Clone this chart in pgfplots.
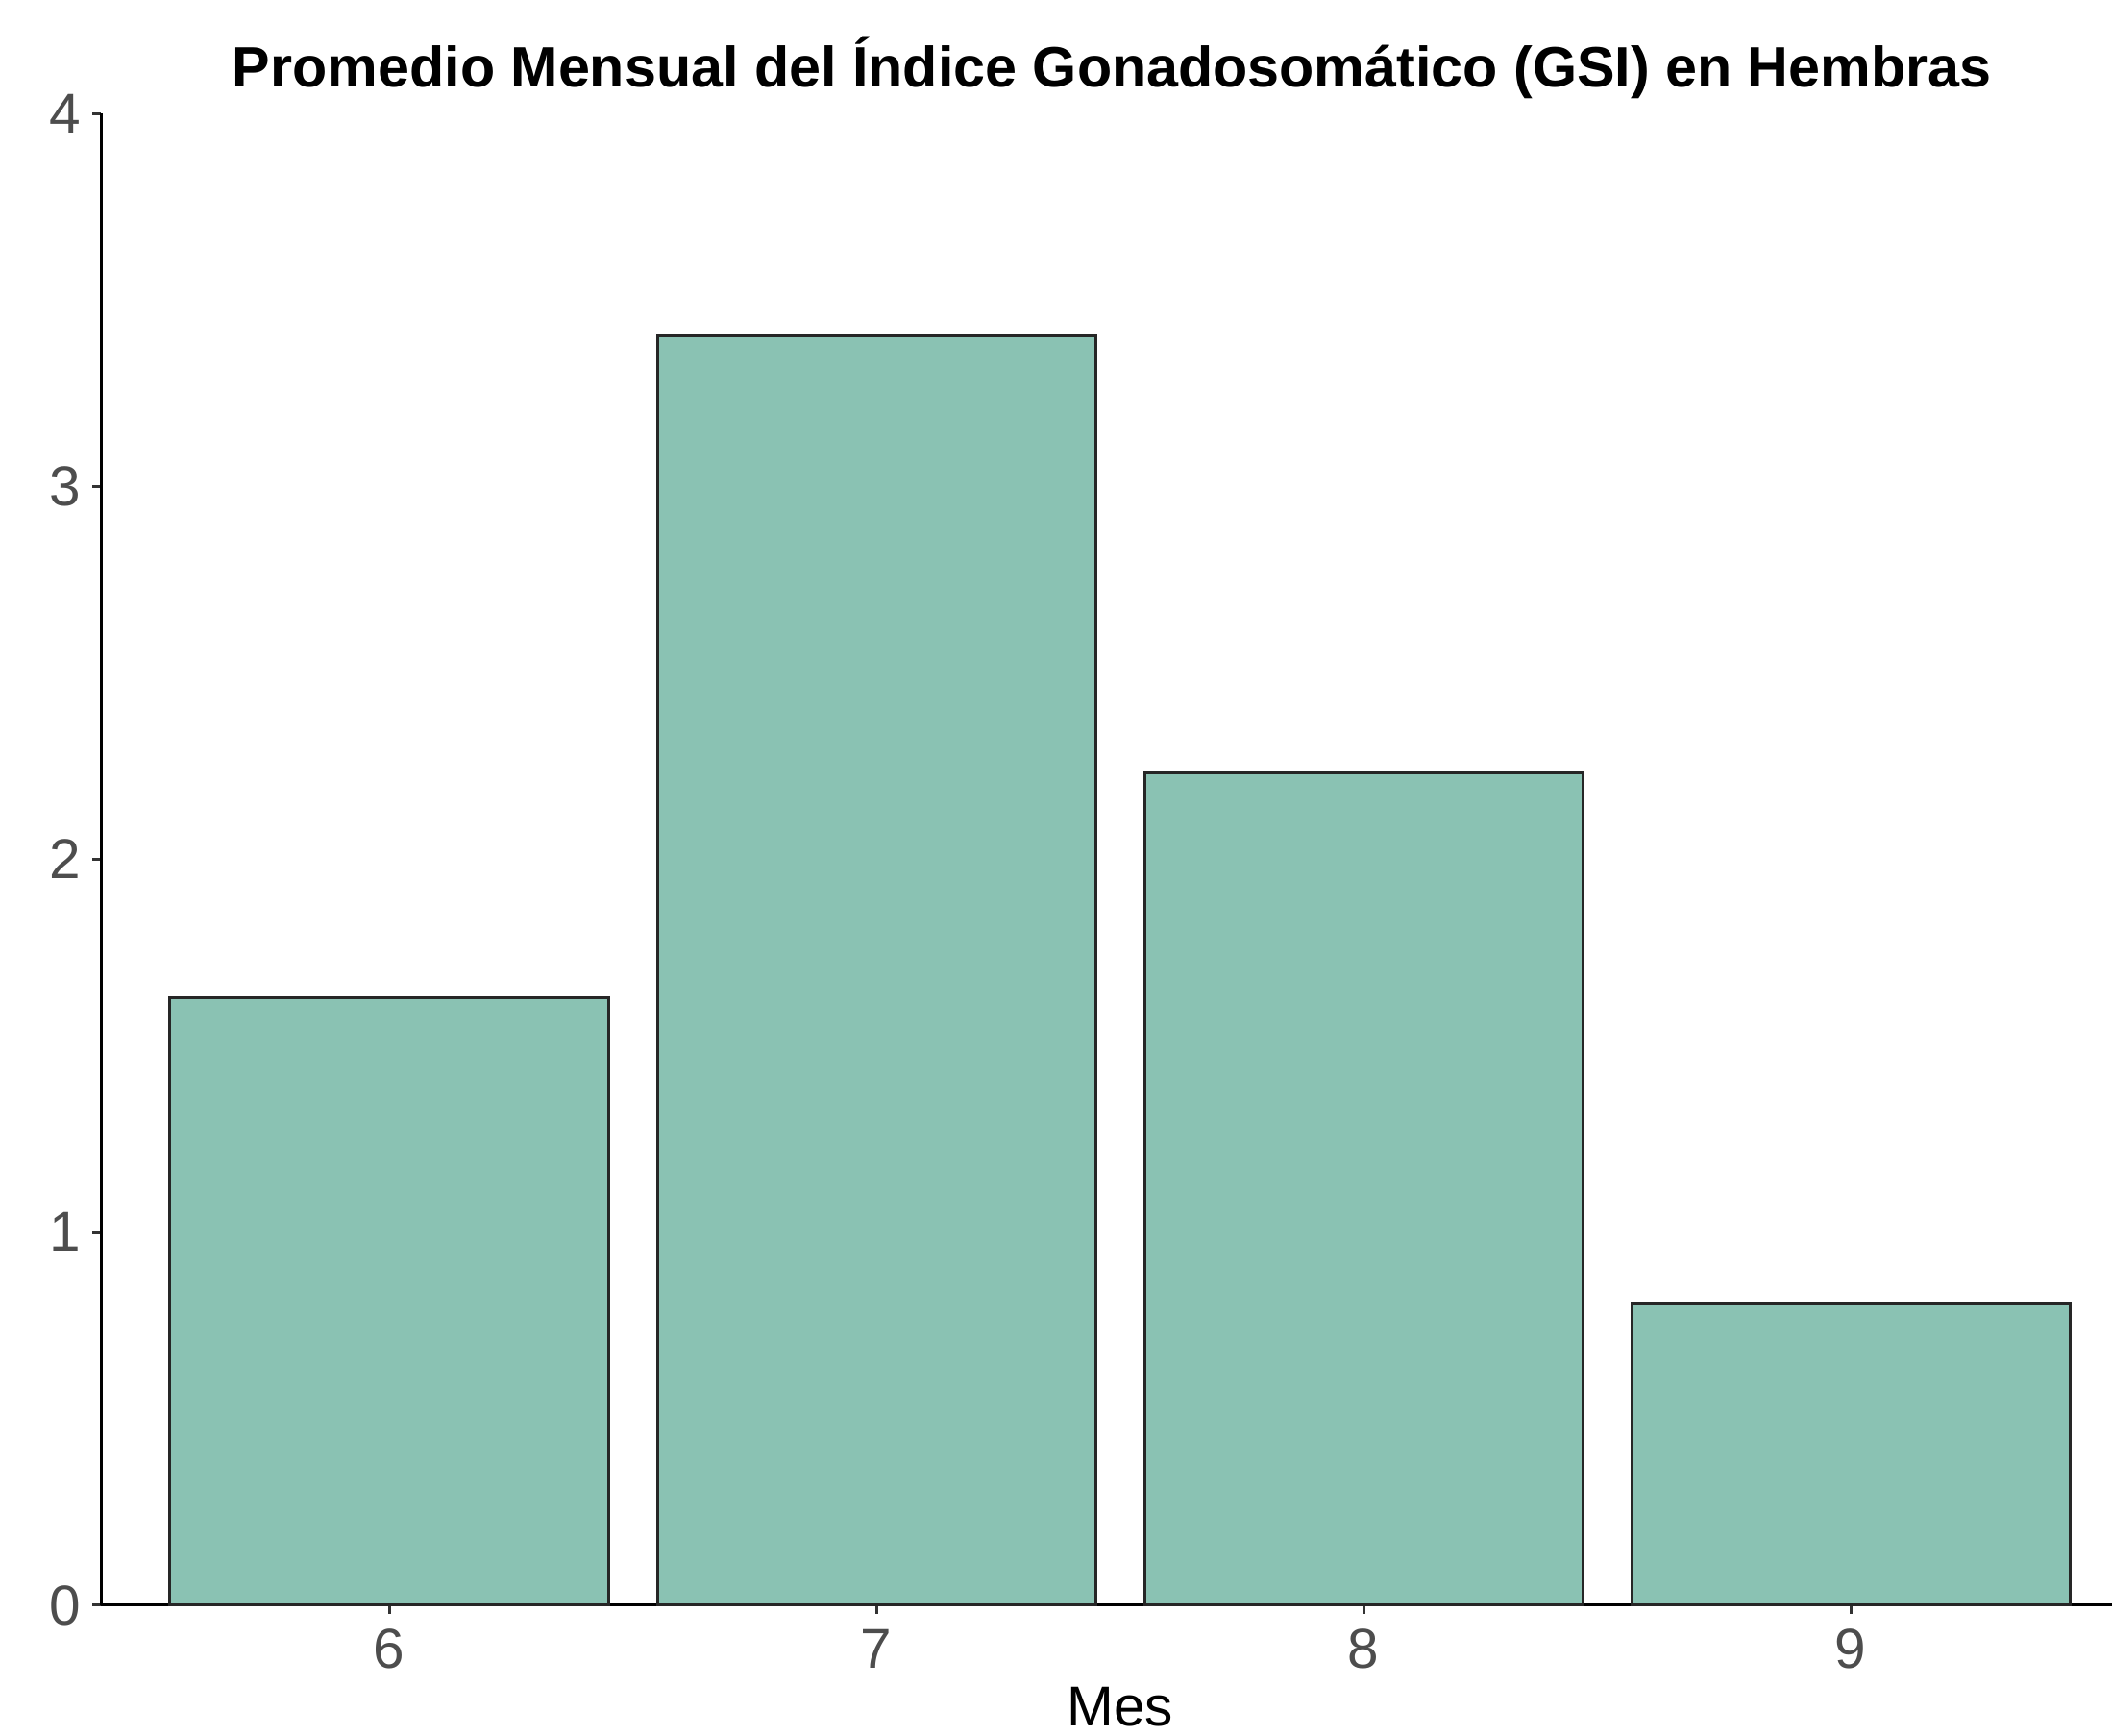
\documentclass[border=0pt]{standalone}
\usepackage{fontspec}
\setmainfont{Liberation Sans}
\usepackage{pgfplots}
\pgfplotsset{compat=1.18}
\definecolor{barfill}{RGB}{138,194,179}
\definecolor{tickgray}{RGB}{77,77,77}
\begin{document}
\begin{tikzpicture}
\useasboundingbox (-21pt,-27.2pt) rectangle (418.6pt,334.2pt);
\begin{axis}[
  at={(0,0)}, anchor=south west,
  scale only axis,
  width=418.6pt, height=310.6pt,
  xmin=5.408, xmax=9.536,
  ymin=0, ymax=4,
  xtick={6,7,8,9},
  ytick={0,1,2,3,4},
  axis x line*=bottom, axis y line*=left,
  axis line style={-, black, line width=0.6pt},
  tick style={black!80, line width=0.6pt},
  tick align=outside,
  major tick length=1.8pt,
  /pgf/number format/assume math mode=true,
  ticklabel style={font=\fontsize{11.7}{14}\selectfont, text=tickgray, inner sep=0pt},
  xticklabel style={anchor=base, yshift=-11.4pt},
  yticklabel style={anchor=east, xshift=-2.2pt},
  xlabel={Mes},
  x label style={at={(rel axis cs:0.5068,0)}, anchor=base, yshift=-25.2pt, font=\fontsize{11.7}{14}\selectfont, inner sep=0pt},
  title={Promedio Mensual del Índice Gonadosomático (GSI) en Hembras},
  title style={at={(rel axis cs:0.5068,1)}, anchor=base, xshift=-1.7pt, yshift=-0.4pt, font=\fontsize{11.85}{14}\selectfont\bfseries, inner sep=0pt},
  clip=false,
]
\addplot[ybar, bar width=0.9, fill=barfill, draw=black!85, line width=0.6pt] coordinates {
  (6,1.629) (7,3.405) (8,2.231) (9,0.810)
};
\end{axis}
\end{tikzpicture}
\end{document}
